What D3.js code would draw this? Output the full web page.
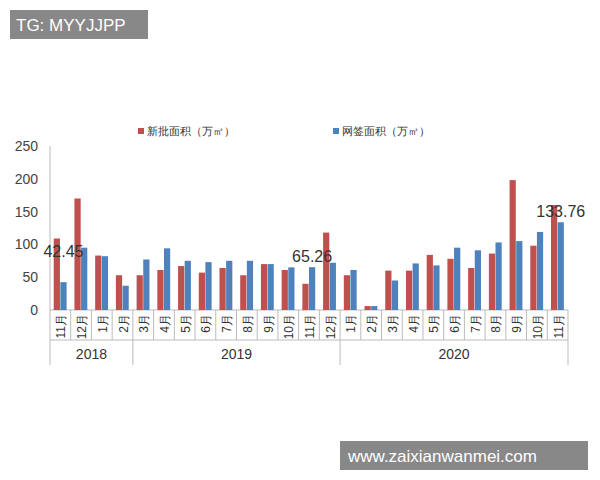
<!DOCTYPE html><html><head><meta charset="utf-8"><script src="https://cdn.jsdelivr.net/npm/d3@7"></script>
<style>body{margin:0;background:#fff}text{font-family:"Liberation Sans",Arial,sans-serif}</style></head><body><svg id="c" width="600" height="480"></svg><script>
const months=["11月","12月","1月","2月","3月","4月","5月","6月","7月","8月","9月","10月","11月","12月","1月","2月","3月","4月","5月","6月","7月","8月","9月","10月","11月"];
const years=[{y:"2018",from:0,to:3},{y:"2019",from:4,to:13},{y:"2020",from:14,to:24}];
const newApproved=[109,170,83,53,53,61,67,57,64,53,70,61,40,118,53,6,60,60,84,78,64,86,198,98,160];
const signed=[42.45,95,82,37,77,94,75,73,75,75,70,65,65.26,72,61,6,45,71,68,95,91,103,105,119,133.76];
const labels=[{i:0,v:"42.45",val:42.45},{i:12,v:"65.26",val:65.26},{i:24,v:"133.76",val:133.76}];
const yTicks=[0,50,100,150,200,250];
const svg=d3.select("#c");
const x=d3.scaleBand().domain(d3.range(months.length)).range([50,568]);
const y=d3.scaleLinear().domain([0,250]).range([310,146]);
svg.append("line").attr("x1",50).attr("x2",50).attr("y1",146).attr("y2",365).attr("stroke","#bbb");
svg.selectAll(".yt").data(yTicks).enter().append("text").attr("x",38).attr("y",d=>y(d)+5).attr("text-anchor","end").attr("font-size",14).attr("fill","#444").text(d=>d);
svg.append("line").attr("x1",50).attr("x2",568).attr("y1",310).attr("y2",310).attr("stroke","#bbb");
const bw=x.bandwidth();
svg.selectAll(".r").data(newApproved).enter().append("rect").attr("x",(d,i)=>x(i)+bw*0.18).attr("width",bw*0.3).attr("y",d=>y(d)).attr("height",d=>310-y(d)).attr("fill","#c0504d");
svg.selectAll(".b").data(signed).enter().append("rect").attr("x",(d,i)=>x(i)+bw*0.5).attr("width",bw*0.3).attr("y",d=>y(d)).attr("height",d=>310-y(d)).attr("fill","#4f81bd");
months.forEach((m,i)=>{
 svg.append("line").attr("x1",x(i)+bw).attr("x2",x(i)+bw).attr("y1",310).attr("y2",340).attr("stroke","#bbb");
 svg.append("text").attr("transform",`translate(${x(i)+bw/2+5},${314}) rotate(-90)`).attr("text-anchor","end").attr("font-size",12).attr("fill","#333").text(m);
});
svg.append("line").attr("x1",50).attr("x2",568).attr("y1",340).attr("y2",340).attr("stroke","#bbb");
years.forEach(g=>{
 svg.append("line").attr("x1",x(g.to)+bw).attr("x2",x(g.to)+bw).attr("y1",340).attr("y2",365).attr("stroke","#bbb");
 svg.append("text").attr("x",(x(g.from)+x(g.to)+bw)/2).attr("y",359).attr("text-anchor","middle").attr("font-size",14).attr("fill","#333").text(g.y);
});
labels.forEach(l=>svg.append("text").attr("x",x(l.i)+bw*0.65).attr("y",y(l.val)-5+(l.i==0?-20:0)).attr("text-anchor","middle").attr("font-size",16).attr("fill","#333").text(l.v));
[[138,"#c0504d","新批面积（万㎡）"],[333,"#4f81bd","网签面积（万㎡）"]].forEach(([lx,c,t])=>{
 svg.append("rect").attr("x",lx).attr("y",128).attr("width",6).attr("height",6).attr("fill",c);
 svg.append("text").attr("x",lx+9).attr("y",135).attr("font-size",11).attr("fill","#333").attr("font-family","Noto Sans CJK SC").text(t);
});
svg.append("rect").attr("x",10).attr("y",10).attr("width",138).attr("height",29).attr("fill","#888");
svg.append("text").attr("x",16).attr("y",31).attr("font-size",17).attr("fill","#fff").text("TG: MYYJJPP");
svg.append("rect").attr("x",340).attr("y",441).attr("width",248).attr("height",29).attr("fill","#888");
svg.append("text").attr("x",348).attr("y",462).attr("font-size",17).attr("fill","#fff").text("www.zaixianwanmei.com");
</script></body></html>
